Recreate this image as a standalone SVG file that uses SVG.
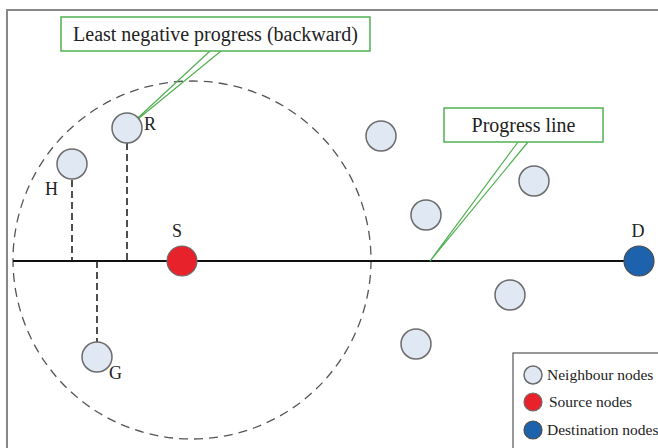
<svg xmlns="http://www.w3.org/2000/svg" width="658" height="448" viewBox="0 0 658 448">
<style>
.nb{fill:#dfe8f3;stroke:#6b6b6b;stroke-width:1.5}
.src{fill:#e8222a;stroke:#6b6b6b;stroke-width:1.2}
.dst{fill:#1d62ad;stroke:#4a4a4a;stroke-width:1.2}
.lbl{font-family:"Liberation Serif",serif;font-size:20px;fill:#222}
.nl{font-family:"Liberation Serif",serif;font-size:18px;fill:#222}
.leg{font-family:"Liberation Serif",serif;font-size:15.5px;fill:#222}
.box{fill:#fff;stroke:#52b052;stroke-width:1.5}
.call{fill:none;stroke:#52b052;stroke-width:1.2}
.drop{stroke:#222;stroke-width:1.6;stroke-dasharray:7,4;fill:none}
</style>
<rect width="658" height="448" fill="#fff"/>
<path d="M7,448 V10 H658" fill="none" stroke="#888" stroke-width="2"/>
<circle cx="192" cy="260" r="179" fill="none" stroke="#555" stroke-width="1.3" stroke-dasharray="9,6"/>
<g id="connectors">
<line x1="13" y1="261" x2="625" y2="261" stroke="#111" stroke-width="2.2"/>
<line class="drop" x1="127" y1="143" x2="127" y2="261"/>
<line class="drop" x1="72" y1="180" x2="72" y2="261"/>
<line class="drop" x1="97" y1="261" x2="97" y2="342"/>
<path class="call" d="M210,51 L127,128 L221,51"/>
<path class="call" d="M518,142 L430,261 L528,142"/>
</g>
<g id="label-backward">
<rect class="box" x="61" y="17" width="309" height="34"/>
<text class="lbl" x="215.5" y="41" text-anchor="middle">Least negative progress (backward)</text>
</g>
<g id="label-progress">
<rect class="box" x="444" y="108" width="159" height="34"/>
<text class="lbl" x="523.5" y="132" text-anchor="middle">Progress line</text>
</g>
<g id="node-R"><circle class="nb" cx="127" cy="128" r="15"/><text class="nl" x="144" y="130">R</text></g>
<g id="node-H"><circle class="nb" cx="72" cy="164" r="15"/><text class="nl" x="45" y="195">H</text></g>
<g id="node-G"><circle class="nb" cx="97" cy="357" r="15"/><text class="nl" x="109" y="379">G</text></g>
<g id="node-S"><circle class="src" cx="182" cy="261" r="15"/><text class="nl" x="177" y="237" text-anchor="middle">S</text></g>
<g id="node-D"><circle class="dst" cx="639" cy="261" r="15"/><text class="nl" x="638" y="237" text-anchor="middle">D</text></g>
<g id="node-n1"><circle class="nb" cx="381" cy="136" r="15"/></g>
<g id="node-n2"><circle class="nb" cx="534" cy="181" r="15"/></g>
<g id="node-n3"><circle class="nb" cx="426" cy="215" r="15"/></g>
<g id="node-n4"><circle class="nb" cx="510" cy="295" r="15"/></g>
<g id="node-n5"><circle class="nb" cx="416" cy="344" r="15"/></g>
<g id="legend">
<rect x="513" y="353" width="160" height="110" fill="#fff" stroke="#555" stroke-width="1.2"/>
<circle class="nb" cx="533" cy="375" r="9"/>
<text class="leg" x="547" y="380">Neighbour nodes</text>
<circle class="src" cx="533" cy="402" r="9"/>
<text class="leg" x="549" y="407">Source nodes</text>
<circle class="dst" cx="533" cy="430" r="9"/>
<text class="leg" x="547" y="435">Destination nodes</text>
</g>
</svg>
